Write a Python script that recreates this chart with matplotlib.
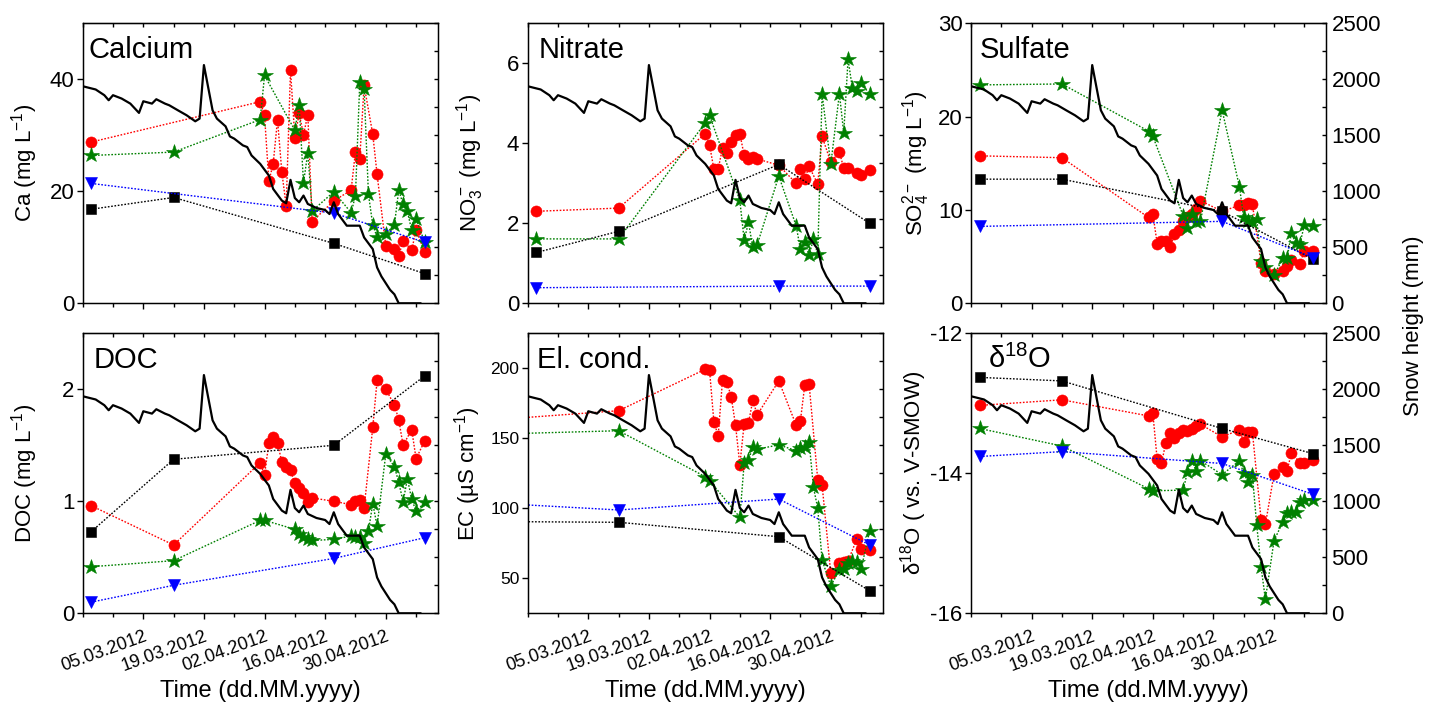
import datetime as dt
import matplotlib
matplotlib.use("Agg")
import matplotlib.pyplot as plt
from matplotlib.ticker import MultipleLocator, NullFormatter

plt.rcParams['font.family'] = ['Liberation Sans', 'DejaVu Sans']
plt.rcParams['mathtext.fontset'] = 'custom'
plt.rcParams['mathtext.rm'] = 'Liberation Sans'
plt.rcParams['mathtext.it'] = 'Liberation Sans:italic'
plt.rcParams['mathtext.bf'] = 'Liberation Sans:bold'
plt.rcParams['axes.unicode_minus'] = False

start = dt.date(2012, 2, 20)   # day 0 of the x axis
x_end = 82
date_labels = ['05.03.2012', '19.03.2012', '02.04.2012', '16.04.2012', '30.04.2012']

# snow height (mm), days since 20.02.2012
snow_day = [0, 3, 5, 6, 7, 9, 11, 13, 14, 16, 17, 19, 20, 22, 24, 26, 27, 28, 30, 31,
            33, 34, 35, 37, 38, 39, 41, 43, 44, 46, 47, 48, 49, 50, 51, 52, 54, 56, 57,
            58, 59, 61, 64, 65, 67, 68, 69, 70, 71, 72, 73, 78]
snow_mm = [1938, 1909, 1858, 1813, 1858, 1828, 1783, 1700, 1804, 1783, 1822, 1783, 1768,
           1723, 1679, 1625, 1649, 2127, 1723, 1649, 1580, 1490, 1470, 1410, 1395, 1320,
           1245, 1141, 1021, 917, 893, 1102, 940, 902, 962, 887, 851, 833, 797, 902, 797,
           693, 693, 588, 484, 320, 240, 180, 120, 80, 0, 0]

# sampling days
early_days = [2, 21]
ec_early_days = [-6, 21]
red_days = [41, 42, 43, 44, 45, 46, 47, 48, 49, 50, 51, 52, 53, 58, 62, 63, 64, 65,
            67, 68, 70, 72, 73, 74, 76, 77, 79]
green_days = [41, 42, 49, 50, 51, 52, 53, 58, 62, 63, 64, 65, 66, 67, 68, 70, 72, 73,
              74, 75, 76, 77, 79]
bulk_days = [2, 21, 58, 79]
ec_bulk_days = [-6, 21, 58, 79]
blue3_days = [2, 58, 79]

# Calcium (mg/L)
ca_red = [28.8, 36.0, 33.6, 21.8, 24.9, 32.8, 23.4, 17.4, 41.6, 29.6, 33.9, 30.1, 33.7,
          14.6, 18.3, 20.2, 27.1, 25.8, 38.9, 30.2, 23.0, 10.3, 9.7, 8.4, 11.2, 9.5, 13.1, 9.1]
ca_green = [26.4, 27.0, 32.8, 40.7, 30.9, 35.4, 21.5, 26.9, 16.5, 19.9, 16.2, 19.2, 39.5,
            38.3, 19.5, 14.0, 11.8, 12.4, 14.0, 20.2, 17.7, 16.4, 13.0, 15.0, 10.9]
ca_black = [16.8, 18.9, 10.7, 5.3]
ca_blue = [21.4, 16.1, 10.9]

# Nitrate (mg/L)
no3_red = [2.30, 2.38, 4.24, 3.96, 3.36, 3.36, 3.88, 3.75, 4.03, 4.20, 4.24, 3.70, 3.61,
           3.65, 3.61, 3.45, 3.00, 3.36, 3.11, 3.42, 2.98, 4.17, 3.53, 3.78, 3.38, 3.38,
           3.25, 3.21, 3.34]
no3_green = [1.61, 1.61, 4.51, 4.70, 2.57, 1.58, 2.02, 1.40, 1.46, 3.18, 1.94, 1.35, 1.52,
             1.21, 1.60, 1.23, 5.24, 3.47, 5.24, 4.26, 6.10, 5.37, 5.31, 5.51, 5.22]
no3_black = [1.27, 1.80, 3.47, 2.0]
no3_blue = [0.39, 0.43, 0.43]

# Sulfate (mg/L)
so4_red = [15.8, 15.6, 9.2, 9.6, 6.4, 6.7, 6.7, 6.0, 7.4, 7.8, 8.85, 9.2, 9.6, 10.1, 11.0,
           9.85, 10.5, 10.5, 10.7, 10.6, 4.35, 3.5, 3.1, 3.5, 4.0, 4.6, 4.25, 5.6, 5.6]
so4_green = [23.4, 23.5, 18.45, 17.9, 9.4, 8.1, 9.6, 8.7, 8.8, 20.7, 12.5, 9.2, 8.85, 8.7,
             9.0, 4.55, 3.9, 3.0, 4.8, 4.8, 7.5, 6.5, 6.4, 8.4, 8.3]
so4_black = [13.3, 13.3, 9.85, 4.73]
so4_blue = [8.24, 8.78, 4.9]

# DOC (mg/L)
doc_red = [0.96, 0.61, 1.345, 1.235, 1.52, 1.57, 1.52, 1.35, 1.31, 1.28, 1.16, 1.12, 1.07,
           0.99, 1.03, 1.00, 0.97, 1.00, 1.01, 0.94, 1.66, 2.08, 2.00, 1.86, 1.73, 1.50,
           1.64, 1.38, 1.54]
doc_green = [0.416, 0.47, 0.83, 0.83, 0.75, 0.71, 0.68, 0.66, 0.65, 0.66, 0.69, 0.68, 0.685,
             0.63, 0.735, 0.98, 0.78, 1.42, 1.31, 1.17, 0.997, 1.20, 1.02, 0.91, 0.99]
doc_black = [0.73, 1.375, 1.50, 2.12]
doc_blue = [0.10, 0.25, 0.49, 0.675]

# electrical conductivity (uS/cm)
ec_red = [163.6, 169.7, 199.3, 198.8, 161.9, 151.7, 191.7, 190.0, 179.8, 159.5, 131.0,
          160.3, 160.7, 177.4, 166.7, 191.0, 159.5, 162.6, 188.1, 188.8, 120.3, 116.7,
          53.6, 60.7, 61.4, 62.4, 77.9, 70.7, 70.3]
ec_green = [153.1, 155.4, 122.6, 119.8, 93.6, 132.2, 134.5, 143.6, 142.2, 145.3, 141.2,
            142.9, 144.1, 147.6, 115.0, 100.0, 63.1, 44.5, 56.0, 56.4, 60.7, 62.6, 61.4,
            56.4, 84.1]
ec_black = [90.5, 90.0, 79.7, 41.1]
ec_blue = [103.4, 98.8, 106.6, 73.8]

# d18O (permil vs. V-SMOW)
o18_red = [-13.03, -12.95, -13.18, -13.14, -13.80, -13.86, -13.56, -13.43, -13.49, -13.43,
           -13.38, -13.39, -13.37, -13.32, -13.30, -13.48, -13.38, -13.55, -13.41, -13.41,
           -14.66, -14.73, -14.01, -13.91, -13.97, -13.71, -13.85, -13.85, -13.81]
o18_green = [-13.36, -13.61, -14.22, -14.25, -14.24, -13.98, -13.82, -13.96, -13.82, -14.02,
             -13.82, -14.00, -14.12, -14.03, -14.74, -15.34, -15.80, -14.96, -14.70, -14.56,
             -14.55, -14.55, -14.41, -14.38, -14.38]
o18_black = [-12.63, -12.68, -13.36, -13.72]
o18_blue = [-13.76, -13.69, -13.86, -14.30]

major_days = [(dt.datetime.strptime(s, '%d.%m.%Y').date() - start).days for s in date_labels]
minor_days = list(range(0, x_end + 1, 7))

fig = plt.figure(figsize=(14.41, 7.09), dpi=100)

col_left = [82.7, 527.7, 971.0]
row_top = [23.3, 333.3]
W, H = 1441, 709
aw, ah = 355, 280


def draw(ax, days_list, vals_list):
    styles = [('o', '#ff0000', 8), ('*', '#008000', 11.5), ('s', 'black', 7.6), ('v', '#0000ff', 9)]
    for (m, c, ms), d, v in zip(styles, days_list, vals_list):
        ax.plot(d, v, linestyle=(0, (1.2, 1.2)), lw=1.0, color=c, marker=m, ms=ms,
                mec=c, mew=0.4)


panels = [
    ('Calcium', 0.016, 'Ca (mg L$^{-1}$)', (0, 50), [0, 20, 40],
     [[2] + red_days, early_days + green_days, bulk_days, blue3_days],
     [ca_red, ca_green, ca_black, ca_blue], -0.121),
    ('Nitrate', 0.03, 'NO$_3^-$ (mg L$^{-1}$)', (0, 7), [0, 2, 4, 6],
     [early_days + red_days, early_days + green_days, bulk_days, blue3_days],
     [no3_red, no3_green, no3_black, no3_blue], -0.118),
    ('Sulfate', 0.025, 'SO$_4^{2-}$ (mg L$^{-1}$)', (0, 30), [0, 10, 20, 30],
     [early_days + red_days, early_days + green_days, bulk_days, blue3_days],
     [so4_red, so4_green, so4_black, so4_blue], -0.11),
    ('DOC', 0.03, 'DOC (mg L$^{-1}$)', (0, 2.5), [0, 1, 2],
     [early_days + red_days, early_days + green_days, bulk_days, bulk_days],
     [doc_red, doc_green, doc_black, doc_blue], -0.12),
    ('El. cond.', 0.025, 'EC (µS cm$^{-1}$)', (25, 225), [50, 100, 150, 200],
     [ec_early_days + red_days, ec_early_days + green_days, ec_bulk_days, ec_bulk_days],
     [ec_red, ec_green, ec_black, ec_blue], -0.125),
    ('δ$^{18}$O', 0.049, 'δ$^{18}$O ( vs. V-SMOW)', (-16, -12), [-16, -14, -12],
     [early_days + red_days, early_days + green_days, bulk_days, bulk_days],
     [o18_red, o18_green, o18_black, o18_blue], -0.118),
]

for i, (title, tx, ylab, ylim, yticks, dl, vl, ylx) in enumerate(panels):
    r, c = divmod(i, 3)
    ax = fig.add_axes([col_left[c] / W, 1 - (row_top[r] + ah) / H, aw / W, ah / H])
    draw(ax, dl, vl)
    ax.set_xlim(0, x_end)
    ax.set_ylim(*ylim)
    ax.set_yticks(yticks)
    tick_fs = 12.5 if title == 'El. cond.' else 16
    ax.tick_params(axis='y', which='both', left=True, right=False, direction='out',
                   length=4, width=1, labelsize=tick_fs, pad=2)
    ax.set_xticks(major_days)
    ax.set_xticks(minor_days, minor=True)
    ax.tick_params(axis='x', which='major', direction='out', length=4.5, width=1)
    ax.tick_params(axis='x', which='minor', direction='out', length=3, width=1)
    if r == 1:
        ax.set_xticklabels(date_labels, rotation=20, ha='right', rotation_mode='anchor',
                           fontsize=13)
        ax.tick_params(axis='x', which='major', pad=6)
        ax.set_xlabel('Time (dd.MM.yyyy)', fontsize=17)
        ax.xaxis.set_label_coords(0.5, -0.24)
    else:
        ax.xaxis.set_major_formatter(NullFormatter())
    for s in ax.spines.values():
        s.set_linewidth(1.0)
    ax.set_ylabel(ylab, fontsize=16)
    ax.yaxis.set_label_coords(ylx, 0.5)
    ax.text(tx, 0.875, title, transform=ax.transAxes, fontsize=21, va='baseline')

    top = ax.secondary_xaxis('top')
    top.set_xticks(major_days)
    top.set_xticks(minor_days, minor=True)
    top.xaxis.set_major_formatter(NullFormatter())
    top.tick_params(axis='x', which='both', direction='in', length=3, width=1)

    tw = ax.twinx()
    tw.plot(snow_day, snow_mm, color='black', lw=1.6)
    tw.set_ylim(0, 2500)
    tw.yaxis.set_major_locator(MultipleLocator(500))
    tw.yaxis.set_minor_locator(MultipleLocator(250))
    tw.tick_params(axis='y', which='both', direction='in', length=3, width=1,
                   labelright=(c == 2), labelsize=16, pad=4)

fig.text(1413 / W, 1 - 326 / H, 'Snow height (mm)', rotation=90, ha='center', va='center',
         fontsize=16)

fig.savefig('out.png', dpi=100)
